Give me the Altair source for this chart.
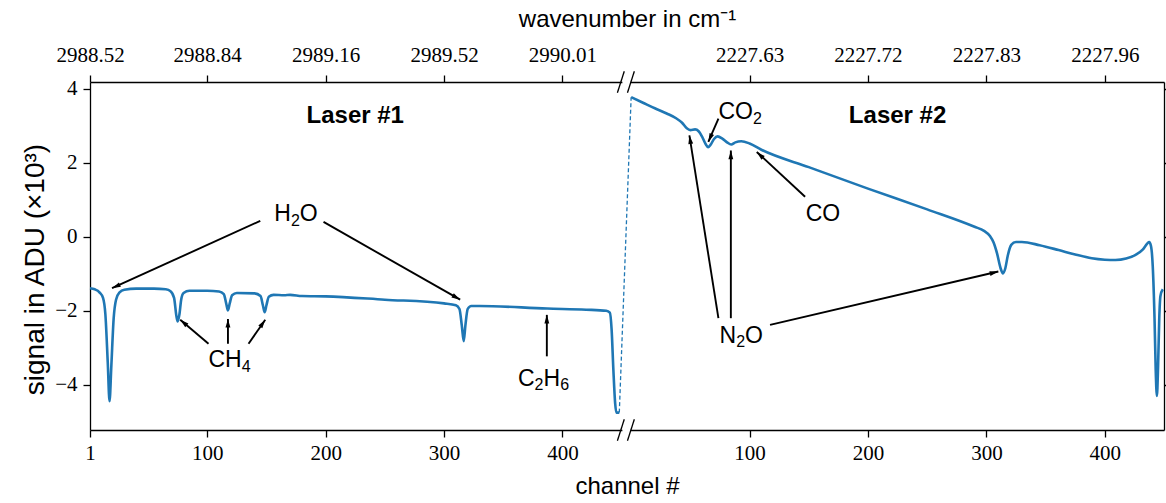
import math
import altair as alt
import pandas as pd

# ---------------- data ----------------
# Laser #1 spectrum: channel -> signal (x10^3 ADU)
l1_channel = [1, 5, 9, 12, 14, 16, 17.5, 19, 21, 23, 26, 30, 40, 55, 65, 69, 72, 74, 75, 76.5,
              78, 80, 85, 100, 110, 114, 116, 117.5, 119, 121, 125, 140, 145, 147, 148.5, 150,
              152, 156, 165, 170, 180, 200, 250, 300, 310, 313, 315, 316.6, 318, 320, 323, 330,
              387, 420, 437, 440, 441.5, 443, 444.5, 445.5, 448]
l1_signal = [-1.39, -1.42, -1.50, -1.65, -2.10, -3.40, -4.44, -3.50, -2.20, -1.70, -1.50, -1.43,
             -1.40, -1.40, -1.42, -1.47, -1.65, -2.15, -2.29, -2.10, -1.70, -1.52, -1.46, -1.46,
             -1.48, -1.55, -1.80, -1.99, -1.80, -1.58, -1.52, -1.53, -1.60, -1.85, -2.04, -1.85,
             -1.62, -1.57, -1.58, -1.57, -1.60, -1.61, -1.70, -1.80, -1.85, -1.95, -2.40, -2.82,
             -2.40, -1.95, -1.87, -1.87, -1.94, -1.97, -2.00, -2.05, -2.50, -3.60, -4.50, -4.75,
             -4.75]

# Laser #2 spectrum: channel -> signal (x10^3 ADU)
l2_channel = [0, 10, 20, 30, 38, 43, 47, 50, 54, 57, 60, 63, 65, 67, 70, 73, 77, 81, 84.5, 88,
              93, 100, 110, 150, 200, 250, 290, 298, 303, 306, 309, 312, 314, 316, 318, 321, 325,
              330, 345, 361, 375, 389, 400, 409, 418, 426, 432, 436, 437.5, 439, 440.5, 442, 443,
              444, 445, 446, 447, 449]
l2_signal = [3.77, 3.62, 3.47, 3.33, 3.20, 3.08, 2.93, 2.88, 2.90, 2.85, 2.70, 2.50, 2.42, 2.48,
             2.64, 2.71, 2.65, 2.55, 2.49, 2.55, 2.58, 2.52, 2.35, 1.88, 1.30, 0.74, 0.27, 0.16,
             0.02, -0.15, -0.45, -0.85, -0.99, -0.85, -0.52, -0.22, -0.14, -0.14, -0.23, -0.36,
             -0.48, -0.58, -0.62, -0.63, -0.59, -0.49, -0.35, -0.18, -0.14, -0.25, -0.80, -2.20,
             -3.60, -4.30, -3.50, -2.20, -1.60, -1.42]

# axis ticks
channel_ticks = [100, 200, 300, 400]
laser1_wavenumbers = ["2988.52", "2988.84", "2989.16", "2989.52", "2990.01"]
laser2_wavenumbers = ["2227.63", "2227.72", "2227.83", "2227.96"]
y_ticks = [-4, -2, 0, 2, 4]

# annotations: (laser, channel, signal, text); digits in formulas are subscripts
labels_bold = [(1, 225, 3.26, "Laser #1"), (2, 225, 3.26, "Laser #2")]
labels = [
    (1, 175, 0.65, "H2O"),
    (1, 118.8, -3.29, "CH4"),
    (1, 384, -3.80, "C2H6"),
    (2, 92, 3.41, "CO2"),
    (2, 162, 0.66, "CO"),
    (2, 93, -2.64, "N2O"),
]
# arrows: (laser, channel_from, signal_from, channel_to, signal_to)
arrows = [
    (1, 144.8, 0.43, 19.6, -1.39),
    (1, 198.2, 0.40, 313.6, -1.70),
    (1, 101.1, -2.89, 77.2, -2.24),
    (1, 117.5, -2.89, 117.5, -2.22),
    (1, 134.9, -2.89, 149.0, -2.24),
    (1, 386.8, -3.23, 386.8, -2.11),
    (2, 73.7, 3.19, 65.2, 2.56),
    (2, 146.9, 1.08, 106.1, 2.29),
    (2, 73.7, -2.20, 49.2, 2.74),
    (2, 84.2, -2.20, 84.2, 2.33),
    (2, 117.3, -2.38, 310.1, -0.94),
]

# ---------------- layout of the broken axis ----------------
OFFSET = 458          # position of laser-2 channel 0 on the shared axis
LEFT_END = 450        # end of the laser-1 panel
X_DOMAIN = [1, 908]
Y_DOMAIN = [-5.22, 4.18]
W, H = 1074, 348
FS_MAIN, FS_SUB = 23, 16
GLYPH_EM = {"H": 0.722, "O": 0.778, "C": 0.722, "N": 0.722}


def pos(laser, ch):
    return ch if laser == 1 else ch + OFFSET


l1 = pd.DataFrame({"x": l1_channel, "y": l1_signal})
l2 = pd.DataFrame({"x": [pos(2, c) for c in l2_channel], "y": l2_signal})
conn = pd.DataFrame({"x": [l1_channel[-1], pos(2, l2_channel[0])],
                     "y": [l1_signal[-1], l2_signal[0]]})

bottom_vals = [1] + channel_ticks + [pos(2, c) for c in channel_ticks]
bottom_labs = ["1"] + [str(c) for c in channel_ticks] * 2
top_vals = [1] + channel_ticks + [pos(2, c) for c in channel_ticks]
top_labs = laser1_wavenumbers + laser2_wavenumbers


def lookup_expr(values, labs):
    expr = "''"
    for v, l in zip(values, labs):
        expr = f"datum.value == {v} ? '{l}' : ({expr})"
    return expr


kx = W / (X_DOMAIN[1] - X_DOMAIN[0])
ky = H / (Y_DOMAIN[1] - Y_DOMAIN[0])
arr_rows, head_rows = [], []
for lz, c0, s0, c1, s1 in arrows:
    x0, x1 = pos(lz, c0), pos(lz, c1)
    arr_rows.append({"x": x0, "y": s0, "x2": x1, "y2": s1})
    dx = (x1 - x0) * kx
    dy = -(s1 - s0) * ky
    ang = math.degrees(math.atan2(dx, -dy)) % 360
    head_rows.append({"x": x1, "y": s1, "angle": ang})
arr_df = pd.DataFrame(arr_rows)
head_df = pd.DataFrame(head_rows)

# chemical formulas as runs of normal text and subscripts
main_rows, sub_rows = [], []
for lz, c, s, t in labels:
    runs = []
    for ch in t:
        if ch.isdigit():
            runs.append((ch, True, 0.556 * FS_SUB))
        else:
            runs.append((ch, False, GLYPH_EM.get(ch, 0.7) * FS_MAIN))
    total = sum(r[2] for r in runs)
    cur = -total / 2
    for txt, is_sub, w in runs:
        row = {"x": pos(lz, c) + cur / kx, "t": txt}
        if is_sub:
            row["y"] = s - 13.0 / ky
            sub_rows.append(row)
        else:
            row["y"] = s - 8.3 / ky
            main_rows.append(row)
        cur += w
main_df = pd.DataFrame(main_rows)
sub_df = pd.DataFrame(sub_rows)
bold_df = pd.DataFrame([{"x": pos(l, c), "y": s, "t": t} for l, c, s, t in labels_bold])

gap_df = pd.DataFrame([
    {"x": LEFT_END + 0.6, "x2": OFFSET - 0.6, "y": Y_DOMAIN[0] - 0.1, "y2": Y_DOMAIN[0] + 0.1},
    {"x": LEFT_END + 0.6, "x2": OFFSET - 0.6, "y": Y_DOMAIN[1] - 0.1, "y2": Y_DOMAIN[1] + 0.1},
])
slash_rows = []
for cx in (LEFT_END - 0.7, OFFSET - 0.2):
    for cy in Y_DOMAIN:
        slash_rows.append({"x": cx - 2.9, "y": cy - 0.29, "x2": cx + 2.9, "y2": cy + 0.29})
slash_df = pd.DataFrame(slash_rows)

# ---------------- chart ----------------
xs = alt.Scale(domain=X_DOMAIN, nice=False, zero=False)
ys = alt.Scale(domain=Y_DOMAIN, nice=False, zero=False)
SERIF = "Liberation Serif"
SANS = "Liberation Sans"
common = dict(domainColor="black", tickColor="black", labelColor="black", titleColor="black",
              domainWidth=1.3, tickWidth=1.3, tickSize=7, grid=False, zindex=0,
              labelFont=SERIF, labelFontSize=21, titleFont=SANS,
              titleFontWeight="normal", labelOverlap=False)

ax_bottom = alt.Axis(orient="bottom", values=bottom_vals, labelExpr=lookup_expr(bottom_vals, bottom_labs),
                     title="channel #", labelFlush=False, labelPadding=5, titlePadding=11,
                     titleFontSize=24, **common)
ax_top = alt.Axis(orient="top", values=top_vals, labelExpr=lookup_expr(top_vals, top_labs),
                  title="wavenumber in cm\u207b\u00b9", labelFlush=False, labelPadding=10,
                  titlePadding=13, titleFontSize=24, **common)
ax_left = alt.Axis(orient="left", values=y_ticks, format="d", title="signal in ADU (\u00d710\u00b3)",
                   labelPadding=6, titlePadding=5, titleFontSize=28, titleY=187, **common)
ax_right = alt.Axis(orient="right", values=y_ticks, labels=False, title=None, **common)


def X(axis=None):
    return alt.X("x:Q", scale=xs, axis=axis)


def Y(axis=None):
    return alt.Y("y:Q", scale=ys, axis=axis)


axes_layer = alt.Chart(l1).mark_line(opacity=0).encode(x=X(ax_top), y=Y(ax_right))

line1 = alt.Chart(l1).mark_line(color="#1f77b4", strokeWidth=2.6, interpolate="monotone").encode(
    x=X(ax_bottom), y=Y(ax_left))
line2 = alt.Chart(l2).mark_line(color="#1f77b4", strokeWidth=2.6, interpolate="monotone").encode(
    x=X(), y=Y())
connector = alt.Chart(conn).mark_line(color="#1f77b4", strokeWidth=1.3, strokeDash=[4, 2.5]).encode(
    x=X(), y=Y())

arrow_lines = alt.Chart(arr_df).mark_rule(color="black", strokeWidth=1.9).encode(
    x=X(), y=Y(), x2="x2:Q", y2="y2:Q")
heads = alt.Chart(head_df).mark_point(shape="M0,0L-0.28,1L0.28,1Z", filled=True, color="black",
                                      opacity=1, size=300).encode(
    x=X(), y=Y(), angle=alt.Angle("angle:Q", scale=None))

main_txt = alt.Chart(main_df).mark_text(font=SANS, fontSize=FS_MAIN, color="black", align="left",
                                        baseline="alphabetic").encode(x=X(), y=Y(), text="t:N")
sub_txt = alt.Chart(sub_df).mark_text(font=SANS, fontSize=FS_SUB, color="black", align="left",
                                      baseline="alphabetic").encode(x=X(), y=Y(), text="t:N")
btexts = alt.Chart(bold_df).mark_text(font=SANS, fontSize=24, fontWeight="bold", color="black",
                                      baseline="middle").encode(x=X(), y=Y(), text="t:N")

gap = alt.Chart(gap_df).mark_rect(color="white").encode(x=X(), x2="x2:Q", y=Y(), y2="y2:Q")
slashes = alt.Chart(slash_df).mark_rule(color="black", strokeWidth=1.3).encode(
    x=X(), y=Y(), x2="x2:Q", y2="y2:Q")

chart = alt.layer(axes_layer, line1, line2, connector, arrow_lines, heads, main_txt, sub_txt, btexts,
                  gap, slashes
                  ).resolve_scale(x="shared", y="shared").resolve_axis(x="independent", y="independent"
                  ).properties(width=W, height=H, autosize=alt.AutoSizeParams(type="none"),
                               padding={"left": 90, "top": 82, "right": 2, "bottom": 73}
                  ).configure_view(stroke=None)

chart.save("out.html", embed_options={"renderer": "svg", "actions": False})
